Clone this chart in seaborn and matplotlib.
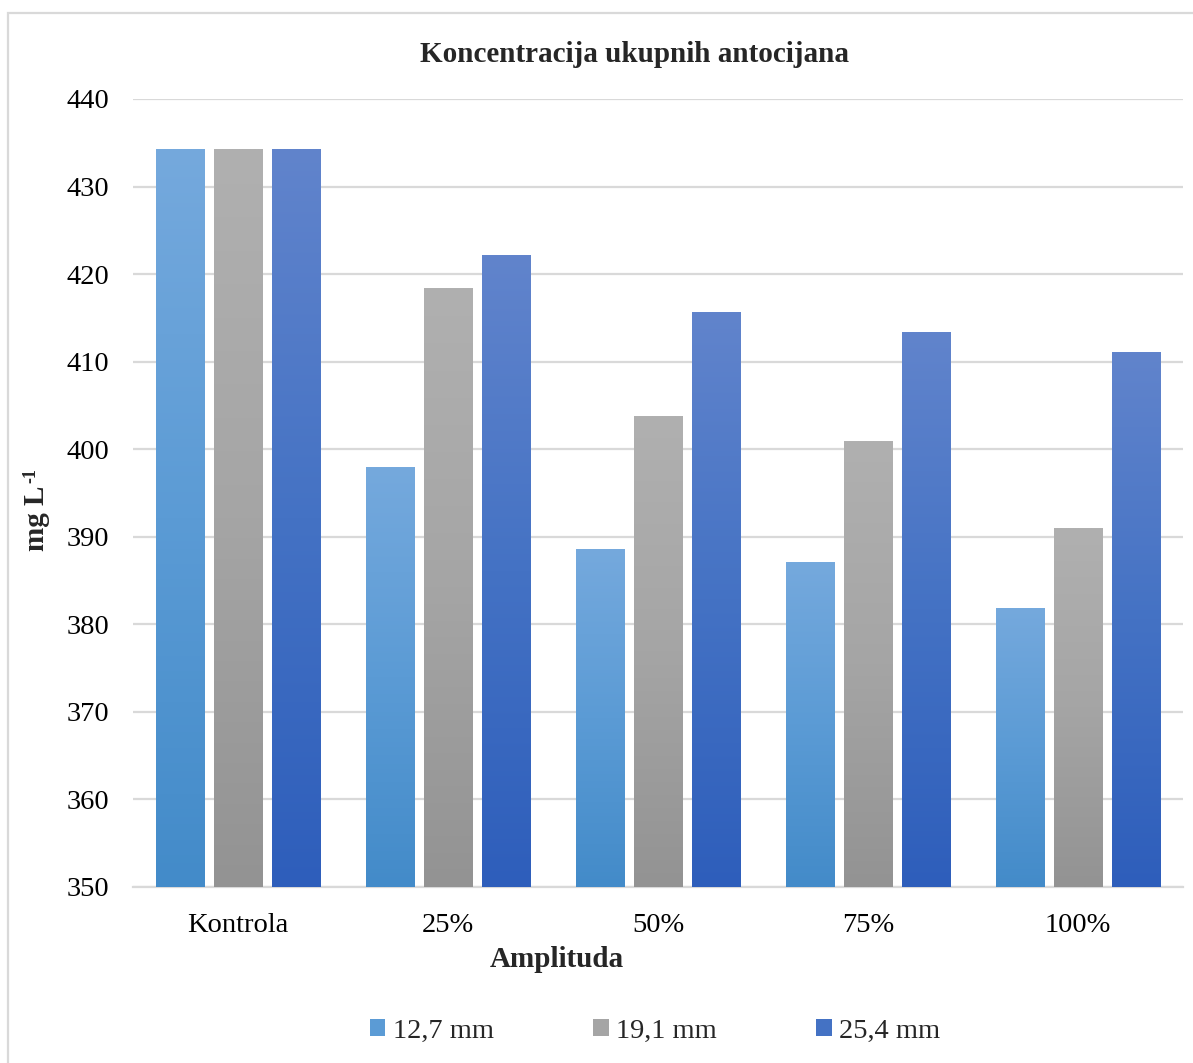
import numpy as np
import pandas as pd
import matplotlib
matplotlib.use("Agg")
import matplotlib.pyplot as plt
import seaborn as sns
from matplotlib.colors import to_rgb, LinearSegmentedColormap
from matplotlib.patches import Patch, Rectangle

categories = ["Kontrola", "25%", "50%", "75%", "100%"]
series_names = ["12,7 mm", "19,1 mm", "25,4 mm"]
s_127 = [434.2, 397.9, 388.5, 387.1, 381.8]
s_191 = [434.2, 418.4, 403.7, 400.9, 391.0]
s_254 = [434.2, 422.1, 415.6, 413.3, 411.0]
y_ticks = [350, 360, 370, 380, 390, 400, 410, 420, 430, 440]

base_colors = ["#5B9BD5", "#A5A5A5", "#4472C4"]
grad_top = ["#75A9DD", "#B0B0B0", "#6184CC"]
grad_bot = ["#438BC9", "#939393", "#2E5EBB"]

rows = []
for name, vals in zip(series_names, [s_127, s_191, s_254]):
    for c, v in zip(categories, vals):
        rows.append({"Amplituda": c, "serija": name, "vrijednost": v})
df = pd.DataFrame(rows)

sns.set_theme(style="white")
plt.rcParams["font.family"] = ["Liberation Serif", "DejaVu Serif"]

FS = 20.5
FSB = 21
fig = plt.figure(figsize=(11.93, 10.63), dpi=100)
ax = fig.add_axes([133/1193, 1 - 887/1063, 1050/1193, 788/1063])

sns.barplot(data=df, x="Amplituda", y="vrijednost", hue="serija",
            order=categories, hue_order=series_names, palette=base_colors,
            width=0.8286, gap=0.1724, ax=ax, legend=False, zorder=3,
            errorbar=None)

ax.set_ylim(350, 440)
ax.set_xlim(-0.5, 4.5)

# gradient overlay per bar
for i, cont in enumerate(ax.containers):
    cmap = LinearSegmentedColormap.from_list(
        f"g{i}", [to_rgb(grad_bot[i]), to_rgb(base_colors[i]), to_rgb(grad_top[i])])
    for p in cont.patches:
        x, y0 = p.get_x(), p.get_y()
        w, h = p.get_width(), p.get_height()
        y_bottom = max(y0, 350)
        y_topv = y0 + h
        grad = np.linspace(0, 1, 256).reshape(-1, 1)
        ax.imshow(grad, cmap=cmap, aspect="auto", origin="lower",
                  extent=[x, x + w, y_bottom, y_topv], zorder=3.5,
                  interpolation="bilinear")
        p.set_facecolor("none")
        p.set_edgecolor("none")

ax.set_ylim(350, 440)
ax.set_xlim(-0.5, 4.5)
ax.set_yticks(y_ticks)
ax.set_yticklabels([str(t) for t in y_ticks])
ax.yaxis.grid(True, color="#D9D9D9", linewidth=1.6, zorder=0)
ax.set_axisbelow(True)
for s in ["left", "right", "top"]:
    ax.spines[s].set_visible(False)
ax.spines["bottom"].set_color("#D9D9D9")
ax.spines["bottom"].set_linewidth(1.6)
ax.tick_params(axis="both", length=0, labelsize=FS, colors="black")
ax.tick_params(axis="x", pad=19)
ax.tick_params(axis="y", pad=17)

ax.set_xlabel("Amplituda", fontsize=FSB, fontweight="bold")
ax.xaxis.set_label_coords(0.404, -0.075)
ax.set_ylabel("mg L", fontsize=FSB, fontweight="bold")
ax.yaxis.set_label_coords(-0.079, 0.468)
fig.text(31/1193, 1 - 476/1063, "-1", rotation=90, ha="center", va="center",
         fontsize=13, fontweight="bold")

fig.text(634/1193, 1 - 55/1063, "Koncentracija ukupnih antocijana",
         ha="center", va="center", fontsize=FSB, fontweight="bold")

handles = [Patch(facecolor=c, edgecolor="none") for c in base_colors]
fig.legend(handles, series_names, loc="center", ncol=3,
           bbox_to_anchor=(655/1193, 1 - 1031/1063), frameon=False,
           fontsize=FS, handlelength=0.55, handleheight=0.55,
           handletextpad=0.25, columnspacing=3.5)

# outer chart border
fig.patches.append(Rectangle((8/1193, -0.02), 1.1, 1 - 13/1063 + 0.02,
                             transform=fig.transFigure, fill=False,
                             edgecolor="#D9D9D9", linewidth=1.6))

fig.savefig("out.png", dpi=100, facecolor="white")
